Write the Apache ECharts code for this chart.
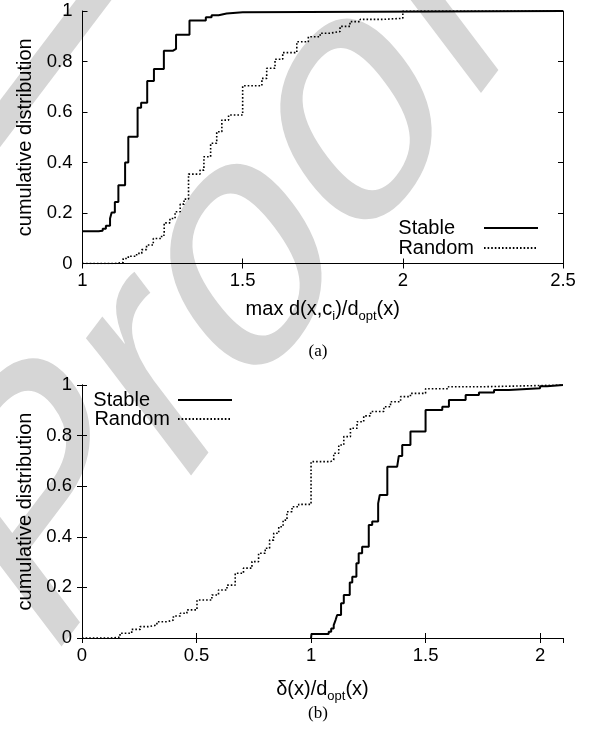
<!DOCTYPE html>
<html>
<head>
<meta charset="utf-8">
<script src="https://cdn.jsdelivr.net/npm/echarts@6/dist/echarts.min.js"></script>
<style>
  html, body { margin: 0; padding: 0; background: #fff; }
  #chart { width: 599px; height: 737px; }
</style>
</head>
<body>
<div id="chart"></div>
<script>
// (a) max d(x,ci)/dopt(x) -- cumulative distribution, [x, F] after each step
var stableA = [
  [1.0, 0.128], [1.05, 0.13], [1.063, 0.138], [1.073, 0.15], [1.086, 0.178],
  [1.091, 0.202], [1.101, 0.244], [1.112, 0.31], [1.133, 0.4], [1.143, 0.502],
  [1.172, 0.617], [1.183, 0.637], [1.202, 0.723], [1.223, 0.77], [1.254, 0.843],
  [1.283, 0.85], [1.292, 0.906], [1.334, 0.962], [1.385, 0.975], [1.403, 0.983],
  [1.425, 0.99], [1.45, 0.995], [1.5, 1.0], [2.5, 1.0]
];
var randomA = [
  [1.0, 0], [1.1, 0.004], [1.127, 0.02], [1.143, 0.029], [1.169, 0.04],
  [1.185, 0.055], [1.2, 0.073], [1.221, 0.099], [1.247, 0.112], [1.255, 0.161],
  [1.273, 0.178], [1.289, 0.205], [1.305, 0.235], [1.317, 0.255], [1.331, 0.354],
  [1.367, 0.37], [1.379, 0.423], [1.4, 0.476], [1.419, 0.522], [1.435, 0.568],
  [1.456, 0.588], [1.5, 0.704], [1.56, 0.733], [1.575, 0.773], [1.601, 0.809],
  [1.625, 0.835], [1.669, 0.878], [1.705, 0.898], [1.742, 0.912], [1.773, 0.919],
  [1.804, 0.939], [1.835, 0.958], [1.867, 0.967], [1.939, 0.971], [2.0, 1.0],
  [2.5, 1.0]
];

// (b) delta(x)/dopt(x)
var stableB = [
  [1.0, 0], [1.002, 0.016], [1.063, 0.016], [1.077, 0.025], [1.088, 0.038],
  [1.099, 0.051], [1.107, 0.071], [1.114, 0.091], [1.131, 0.137], [1.143, 0.17],
  [1.169, 0.219], [1.18, 0.242], [1.198, 0.295], [1.208, 0.335], [1.223, 0.361],
  [1.252, 0.447], [1.267, 0.46], [1.293, 0.532], [1.3, 0.565], [1.333, 0.677],
  [1.376, 0.684], [1.383, 0.719], [1.398, 0.763], [1.434, 0.816], [1.5, 0.901],
  [1.573, 0.914], [1.602, 0.941], [1.675, 0.96], [1.733, 0.97], [1.799, 0.98],
  [1.864, 0.987], [2.0, 0.995], [2.03, 1.0], [2.1, 1.0]
];
var randomB = [
  [0, 0], [0.123, 0.003], [0.166, 0.019], [0.217, 0.034], [0.254, 0.045],
  [0.29, 0.051], [0.327, 0.064], [0.37, 0.071], [0.399, 0.087], [0.429, 0.098],
  [0.458, 0.111], [0.502, 0.15], [0.567, 0.17], [0.596, 0.19], [0.633, 0.209],
  [0.669, 0.256], [0.705, 0.276], [0.742, 0.302], [0.771, 0.335], [0.8, 0.355],
  [0.819, 0.387], [0.837, 0.414], [0.859, 0.44], [0.878, 0.466], [0.895, 0.499],
  [0.917, 0.519], [0.946, 0.528], [1.0, 0.697], [1.085, 0.704], [1.099, 0.73],
  [1.121, 0.763], [1.143, 0.796], [1.172, 0.829], [1.201, 0.855], [1.23, 0.878],
  [1.26, 0.895], [1.318, 0.914], [1.347, 0.934], [1.391, 0.954], [1.434, 0.967],
  [1.5, 0.985], [1.6, 0.993], [1.75, 1.0], [2.1, 1.0]
];

var xRangeA = [1, 2.5];
var xRangeB = [0, 2.1];
var yRange = [0, 1];

var FONT = 'Liberation Sans';
var black = '#000';

function xAxisPair(grid, range, name, gap) {
  var base = {
    type: 'value', gridIndex: grid, min: range[0], max: range[1], interval: 0.5,
    axisLine: { show: true, lineStyle: { color: black, width: 1 } },
    axisTick: { show: true, inside: true, length: 5, lineStyle: { color: black } },
    splitLine: { show: false }
  };
  var bottom = Object.assign({}, base, {
    position: 'bottom',
    axisLabel: { color: black, fontSize: 18.5, fontFamily: FONT, margin: 8,
                 showMaxLabel: range[1] % 0.5 === 0 },
    name: name, nameLocation: 'middle', nameGap: gap,
    nameTextStyle: {
      color: black, fontSize: 20, fontFamily: FONT,
      rich: {
        m: { fontSize: 20, fontFamily: FONT, color: black },
        s: { fontSize: 13, fontFamily: FONT, color: black, lineHeight: 14, padding: [14, 0, 0, 0] }
      }
    }
  });
  var top = Object.assign({}, base, { position: 'top', axisLabel: { show: false } });
  return [bottom, top];
}

function yAxisPair(grid) {
  var base = {
    type: 'value', gridIndex: grid, min: yRange[0], max: yRange[1], interval: 0.2,
    axisLine: { show: true, lineStyle: { color: black, width: 1 } },
    axisTick: { show: true, inside: true, length: 5, lineStyle: { color: black } },
    splitLine: { show: false }
  };
  var left = Object.assign({}, base, {
    position: 'left',
    axisLabel: { color: black, fontSize: 18.5, fontFamily: FONT, margin: 10 },
    name: 'cumulative distribution', nameLocation: 'middle', nameGap: 47,
    nameTextStyle: { color: black, fontSize: 20, fontFamily: FONT }
  });
  var right = Object.assign({}, base, { position: 'right', axisLabel: { show: false } });
  return [left, right];
}

function legendItem(name, right, top, padRight) {
  return {
    data: [name], orient: 'vertical', align: 'right', right: right, top: top,
    padding: 0, itemWidth: 54, itemHeight: 14,
    itemStyle: { color: 'transparent', borderColor: 'transparent', borderWidth: 0 },
    textStyle: { color: black, fontSize: 20, fontFamily: FONT, padding: [0, padRight, 0, 0] }
  };
}

var solid = { color: black, width: 2, type: 'solid' };
var dotted = { color: black, width: 1.6, type: [1.6, 2] };

function stepSeries(name, data, xi, yi, ls) {
  return {
    name: name, type: 'line', step: 'end', data: data,
    xAxisIndex: xi, yAxisIndex: yi,
    symbol: 'none', showSymbol: false,
    itemStyle: { color: black }, lineStyle: ls,
    animation: false, z: 3
  };
}

var wmGray = '#d6d6d6';
var wmSize = 280;

var option = {
  animation: false,
  backgroundColor: '#fff',
  grid: [
    { left: 82.5, right: 36, top: 11, height: 252.5 },
    { left: 82, right: 36, top: 385, height: 253 }
  ],
  xAxis: xAxisPair(0, xRangeA, '{m|max d(x,c}{s|i}{m|)/d}{s|opt}{m|(x)}', 36)
    .concat(xAxisPair(1, xRangeB, '{m|δ(x)/d}{s|opt}{m|(x)}', 41)),
  yAxis: yAxisPair(0).concat(yAxisPair(1)),
  legend: [
    legendItem('Stable', 60, 218, 24),
    legendItem('Random', 60, 238, 5),
    legendItem('Stable', 366, 390, 23),
    legendItem('Random', 366, 409, 3)
  ],
  series: [
    stepSeries('Stable', stableA, 0, 0, solid),
    stepSeries('Random', randomA, 0, 0, dotted),
    stepSeries('Stable', stableB, 2, 2, solid),
    stepSeries('Random', randomB, 2, 2, dotted)
  ],
  graphic: [
    {
      // "Proof" watermark, rotated and stretched as in the scan
      type: 'group', scaleY: 1.32, silent: true, z: -10,
      children: [{
        type: 'group', x: 38.2, y: 499, rotation: Math.PI / 4, z: -10,
        children: [
          { type: 'text', x: 0, y: -0.24 * wmSize, z: -10,
            style: { text: 'Proof', fontSize: wmSize, fontFamily: FONT, fill: wmGray,
                     align: 'left', verticalAlign: 'middle' } },
          { type: 'rect', z: -10,
            shape: { x: 0.8 * wmSize, y: -1.165 * wmSize, width: 0.8 * wmSize, height: 0.09 * wmSize },
            style: { fill: wmGray } }
        ]
      }]
    },
    { type: 'text', x: 318, y: 352, z: 5,
      style: { text: '(a)', fontSize: 17, fontFamily: 'Liberation Serif', fill: black,
               align: 'center', verticalAlign: 'middle' } },
    { type: 'text', x: 318, y: 714, z: 5,
      style: { text: '(b)', fontSize: 17, fontFamily: 'Liberation Serif', fill: black,
               align: 'center', verticalAlign: 'middle' } }
  ]
};

var myChart = echarts.init(document.getElementById('chart'));
myChart.setOption(option);
</script>
</body>
</html>
